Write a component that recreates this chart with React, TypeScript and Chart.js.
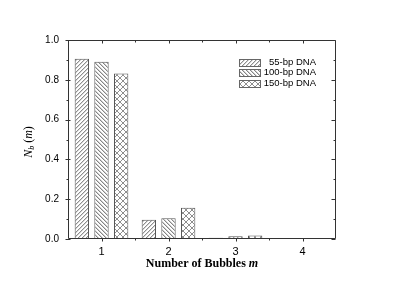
import React, { useEffect, useRef } from "react";
import { Chart, registerables } from "chart.js";

Chart.register(...registerables);

// ---- data ----
const categories = ["1", "2", "3", "4"];
const seriesNames = ["55-bp DNA", "100-bp DNA", "150-bp DNA"];
const dna55 = [0.906, 0.097, 0.006, 0];
const dna100 = [0.891, 0.104, 0.014, 0.004];
const dna150 = [0.832, 0.157, 0.017, 0];
const yMajorTicks = [0, 0.2, 0.4, 0.6, 0.8, 1.0];
const yMinorTicks = [0.1, 0.3, 0.5, 0.7, 0.9];

const SANS = "'Liberation Sans', Arial, sans-serif";
const SERIF = "'Liberation Serif', 'Times New Roman', serif";

function makePattern(kind: "fwd" | "back" | "cross"): CanvasPattern | string {
  const s = kind === "cross" ? 6 : 4;
  const c = document.createElement("canvas");
  c.width = s;
  c.height = s;
  const g = c.getContext("2d");
  if (!g) return "#fff";
  g.fillStyle = "#ffffff";
  g.fillRect(0, 0, s, s);
  for (let x = 0; x < s; x++) {
    for (let y = 0; y < s; y++) {
      const f = (x + y) % s === s - 1;
      const b = (x - y + s) % s === 0;
      const fSoft = (x + y) % s === 0;
      const bSoft = (x - y + s) % s === 1;
      let col = "";
      if (kind === "fwd") col = f ? "#8e8e8e" : fSoft ? "#d6d6d6" : "";
      else if (kind === "back") col = b ? "#858585" : bSoft ? "#cfcfcf" : "";
      else col = f || b ? "#8e8e8e" : "";
      if (col) {
        g.fillStyle = col;
        g.fillRect(x, y, 1, 1);
      }
    }
  }
  const ctx = document.createElement("canvas").getContext("2d");
  const p = ctx ? ctx.createPattern(c, "repeat") : null;
  return p || "#fff";
}

const framePlugin = {
  id: "frameAndTitles",
  afterDatasetsDraw(chart: any) {
    const { ctx, chartArea } = chart;
    const xs = chart.scales.x;
    const ys = chart.scales.y;
    const L = Math.round(chartArea.left) + 0.5;
    const R = Math.round(chartArea.right) - 0.5;
    const T = Math.round(chartArea.top) + 0.5;
    const B = Math.round(chartArea.bottom) - 0.5;
    ctx.save();
    ctx.strokeStyle = "#333";
    ctx.lineWidth = 1;
    ctx.beginPath();
    ctx.rect(L, T, R - L, B - T);
    // y ticks
    yMajorTicks.forEach((v) => {
      const y = Math.round(ys.getPixelForValue(v)) + 0.5;
      ctx.moveTo(L - 3, y);
      ctx.lineTo(L + 2, y);
      ctx.moveTo(R, y);
      ctx.lineTo(R - 4, y);
    });
    yMinorTicks.forEach((v) => {
      const y = Math.round(ys.getPixelForValue(v)) + 0.5;
      ctx.moveTo(L - 2, y);
      ctx.lineTo(L, y);
      ctx.moveTo(R, y);
      ctx.lineTo(R - 2, y);
    });
    // x ticks
    categories.forEach((_, i) => {
      const x = Math.round(xs.getPixelForValue(i)) + 0.5;
      ctx.moveTo(x, B);
      ctx.lineTo(x, B + 3);
      ctx.moveTo(x, T);
      ctx.lineTo(x, T + 3);
      if (i < categories.length - 1) {
        const xm = Math.round((xs.getPixelForValue(i) + xs.getPixelForValue(i + 1)) / 2) + 0.5;
        ctx.moveTo(xm, B);
        ctx.lineTo(xm, B + 2);
        ctx.moveTo(xm, T);
        ctx.lineTo(xm, T + 2);
      }
    });
    ctx.stroke();

    // legend
    const boxL = 239;
    const boxW = 21;
    const boxH = 7;
    const textR = 316;
    const rowY = [62, 72.5, 83];
    chart.data.datasets.forEach((ds: any, i: number) => {
      const cy = rowY[i];
      ctx.fillStyle = ds.backgroundColor;
      ctx.fillRect(boxL, Math.round(cy - boxH / 2), boxW, boxH);
      ctx.strokeStyle = "#666";
      ctx.strokeRect(boxL + 0.5, Math.round(cy - boxH / 2) + 0.5, boxW, boxH);
      ctx.fillStyle = "#000";
      ctx.font = `9.5px ${SANS}`;
      ctx.textAlign = "right";
      ctx.textBaseline = "middle";
      ctx.fillText(ds.label, textR, cy);
    });

    // x title
    ctx.textBaseline = "middle";
    ctx.textAlign = "left";
    const p1 = "Number of Bubbles ";
    const p2 = "m";
    ctx.font = `bold 12px ${SERIF}`;
    const w1 = ctx.measureText(p1).width;
    ctx.font = `bold italic 12px ${SERIF}`;
    const w2 = ctx.measureText(p2).width;
    const cx = (chartArea.left + chartArea.right) / 2;
    const sx = cx - (w1 + w2) / 2;
    ctx.fillStyle = "#000";
    ctx.font = `bold 12px ${SERIF}`;
    ctx.fillText(p1, sx, 264);
    ctx.font = `bold italic 12px ${SERIF}`;
    ctx.fillText(p2, sx + w1, 264);

    // y title (rotated)
    ctx.save();
    ctx.translate(29, 142);
    ctx.rotate(-Math.PI / 2);
    const parts = [
      { t: "N", f: `italic 12px ${SERIF}`, dy: 0 },
      { t: "b", f: `italic 8px ${SERIF}`, dy: 3 },
      { t: " (", f: `12px ${SERIF}`, dy: 0 },
      { t: "m", f: `italic 12px ${SERIF}`, dy: 0 },
      { t: ")", f: `12px ${SERIF}`, dy: 0 },
    ];
    let total = 0;
    const widths = parts.map((p) => {
      ctx.font = p.f;
      const w = ctx.measureText(p.t).width;
      total += w;
      return w;
    });
    let px = -total / 2;
    ctx.fillStyle = "#000";
    ctx.textAlign = "left";
    ctx.textBaseline = "middle";
    parts.forEach((p, i) => {
      ctx.font = p.f;
      ctx.fillText(p.t, px, p.dy);
      px += widths[i];
    });
    ctx.restore();

    ctx.restore();
  },
};

export default function App() {
  const ref = useRef<HTMLCanvasElement | null>(null);
  useEffect(() => {
    document.body.style.margin = "0";
    const canvas = ref.current;
    if (!canvas) return;
    const patterns = [makePattern("fwd"), makePattern("back"), makePattern("cross")];
    const series = [dna55, dna100, dna150];
    const chart = new Chart(canvas, {
      type: "bar",
      data: {
        labels: categories,
        datasets: series.map((d, i) => ({
          label: seriesNames[i],
          data: d,
          backgroundColor: patterns[i] as any,
          borderColor: "#555",
          borderWidth: 1,
          categoryPercentage: 0.88,
          barPercentage: 0.73,
        })),
      },
      options: {
        responsive: false,
        animation: false,
        layout: { padding: { top: 40, right: 79, left: 0, bottom: 0 } },
        plugins: { legend: { display: false }, tooltip: { enabled: false } },
        scales: {
          x: {
            grid: { display: false, drawTicks: false },
            border: { display: false },
            ticks: { color: "#000", font: { family: SANS, size: 11 }, padding: 6 },
            afterFit: (s: any) => {
              s.height = 52;
            },
          },
          y: {
            min: 0,
            max: 1,
            grid: { display: false, drawTicks: false },
            border: { display: false },
            ticks: {
              stepSize: 0.2,
              color: "#000",
              font: { family: SANS, size: 10 },
              padding: 9,
              callback: (v: any) => Number(v).toFixed(1),
            },
            afterFit: (s: any) => {
              s.width = 68;
            },
          },
        },
      },
      plugins: [framePlugin],
    });
    return () => chart.destroy();
  }, []);
  return (
    <div style={{ position: "absolute", left: 0, top: 0, width: 415, height: 291, background: "#fff" }}>
      <canvas ref={ref} width={415} height={291} style={{ width: 415, height: 291 }} />
    </div>
  );
}
